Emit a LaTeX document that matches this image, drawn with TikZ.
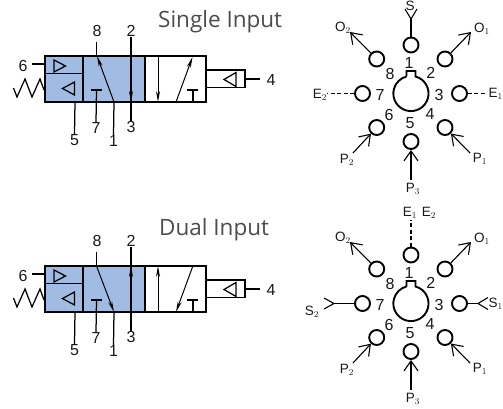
\documentclass[tikz,border=0pt]{standalone}
\usepackage{fontspec}
\setmainfont{Liberation Sans}
\newfontfamily\titlefont{Open Sans}
\usetikzlibrary{arrows.meta}
\definecolor{valveblue}{RGB}{160, 188, 227}
\definecolor{inktext}{RGB}{25, 25, 25}
\tikzset{
    num/.style={font=\fontsize{16}{16}\selectfont, text=inktext, inner sep=0pt},
    portlbl/.style={font=\fontsize{13.5}{13.5}\selectfont, text=inktext, inner sep=0pt},
    head/.style={font=\titlefont\fontsize{22.5}{22.5}\selectfont, text=black!70, inner sep=0pt, anchor=west},
    body/.style={line width=1.8pt, line join=miter},
    thin line/.style={line width=1.25pt},
    port/.style={circle, draw, line width=1.9pt, minimum size=15pt, inner sep=0pt},
    barb/.style={line width=1.1pt, -{Straight Barb[length=10pt,width=14pt,line width=1.1pt]}},
    fork/.style={line width=1.1pt},
    exhaust/.style={line width=1.1pt, dash pattern=on 4pt off 2.5pt},
    flow/.style={line width=1pt, -{Stealth[length=11pt,width=4pt]}}
}
\begin{document}
\begin{tikzpicture}[x=1pt, y=-1pt]
    \useasboundingbox (0,0) rectangle (503,409);
    \node[head] (title0) at (158,22) {Single Input};
    \node[head] (title210) at (159,230) {Dual Input};
    \foreach \dy in {0,210} {
        \begin{scope}[shift={(0,\dy)}]
            % valve body
            \fill[valveblue] (45,56) rectangle (145,102);
            \draw[body] (45,56) rectangle (206,102);
            \draw[body] (45,73.5) -- (83,73.5);
            \draw[body] (83,56) -- (83,102);
            \draw[body] (145,56) -- (145,102);
            \draw[body] (206,70) rectangle (245,87.5);
            \draw[thin line] (54,60) -- (65.5,66) -- (54,72) -- cycle;
            \draw[thin line] (62.5,88.5) -- (74.5,82) -- (74.5,95) -- cycle;
            \draw[thin line] (224,79.5) -- (236,72.5) -- (236,86.5) -- cycle;
            \draw[thin line] (13.5,88) -- (17,97) -- (25,79) -- (32,97) -- (40,79) -- (44,90);
            % valve numbers
            \node[num] (n8-\dy) at (97,31) {8};
            \node[num] (n2-\dy) at (131,31) {2};
            \node[num] (n6-\dy) at (23,66) {6};
            \node[num] (n4-\dy) at (271,80) {4};
            \node[num] (n7-\dy) at (96,128) {7};
            \node[num] (n3-\dy) at (131,127) {3};
            \node[num] (n5-\dy) at (74.5,140) {5};
            \node[num] (n1-\dy) at (113.5,141) {1};
            \coordinate (in6-\dy) at (45,64);
            \coordinate (in4-\dy) at (245,79);
            \coordinate (in5-\dy) at (75,102);
            \coordinate (in1-\dy) at (114,102);
            \coordinate (in7-\dy) at (96.5,90);
            \draw[thin line] (32,64) -- (in6-\dy);
            \draw[thin line] (in4-\dy) -- (260,79);
            \draw[thin line] (in5-\dy) -- (n5-\dy.north);
            \draw[thin line] (in1-\dy) -- (n1-\dy.north);
            \draw[thin line] (in7-\dy) -- (n7-\dy.north);
            \draw[thin line] (n2-\dy.south) -- (n3-\dy.north);
            \draw[thin line] (91,90) -- (102,90);
            \draw[thin line] (187,90) -- (198,90);
            \draw[thin line] (193,90) -- (193,102);
            % ports
            \draw[line width=1.9pt] (406.5,76.5) -- (406.5,71) -- (415.5,71) -- (415.5,76.5)
                arc[start angle=75, end angle=-255, radius=17.6pt];
            \node[port] (p1-\dy) at (411,45) {};
            \node[port] (p2-\dy) at (445,59) {};
            \node[port] (p3-\dy) at (459.5,93.5) {};
            \node[port] (p4-\dy) at (445,127.5) {};
            \node[port] (p5-\dy) at (411,141.5) {};
            \node[port] (p6-\dy) at (376.7,127.5) {};
            \node[port] (p7-\dy) at (362.5,93.5) {};
            \node[port] (p8-\dy) at (376.7,59) {};
            \node[num] at (409,63) {1};
            \node[num] at (430.7,73) {2};
            \node[num] at (439,94.5) {3};
            \node[num] at (430,114) {4};
            \node[num] at (410,123) {5};
            \node[num] at (389,115) {6};
            \node[num] at (380,94.5) {7};
            \node[num] at (390,74) {8};
            % outer arrows
            \coordinate (o1-\dy) at (471,32);
            \coordinate (o2-\dy) at (350,32);
            \coordinate (t1-\dy) at (470,153);
            \coordinate (t2-\dy) at (353,153);
            \coordinate (t3-\dy) at (411,180);
            \draw[barb] (p2-\dy) -- (o1-\dy);
            \draw[barb] (p8-\dy) -- (o2-\dy);
            \draw[barb] (t1-\dy) -- (p4-\dy);
            \draw[barb] (t2-\dy) -- (p6-\dy);
            \draw[barb] (t3-\dy) -- (p5-\dy);
            \node[portlbl] (lo1-\dy) at (482,29) {O$_1$};
            \node[portlbl] (lo2-\dy) at (343,28) {O$_2$};
            \node[portlbl] (lp1-\dy) at (480,159) {P$_1$};
            \node[portlbl] (lp2-\dy) at (347,160) {P$_2$};
            \node[portlbl] (lp3-\dy) at (413,189) {P$_3$};
        \end{scope}
    }
    % single input
    \draw[thin line] (96.5,42) -- (96.5,56);
    \draw[flow] (114,102) -- (97,56);
    \draw[flow] (131,42) -- (131,102);
    \draw[flow] (158,56) -- (158,102);
    \draw[flow] (176,102) -- (192.5,57);
    \coordinate (sfork) at (411,19);
    \draw[fork] (sfork) -- (p1-0);
    \draw[fork] (405,9) -- (sfork) -- (417,9);
    \node[portlbl, anchor=north] (ls) at (410,0.5) {S};
    \coordinate (ee2) at (327,93.5);
    \coordinate (ee1) at (487,93.5);
    \draw[exhaust] (p7-0) -- (ee2);
    \draw[exhaust] (p3-0) -- (ee1);
    \node[portlbl] (le2) at (320,95) {E$_2$};
    \node[portlbl, anchor=east] (le1) at (503,94) {E$_1$};
    % dual input
    \draw[thin line] (96.5,252) -- (96.5,266);
    \draw[flow] (96.5,266) -- (114,312);
    \draw[flow] (131,312) -- (131,266);
    \draw[flow] (158,312) -- (158,266);
    \draw[flow] (192.5,267) -- (176,312);
    \coordinate (s2fork) at (334,303.5);
    \coordinate (s1fork) at (478,303.5);
    \draw[fork] (p7-210) -- (s2fork);
    \draw[fork] (324,298) -- (s2fork) -- (324,309);
    \draw[fork] (p3-210) -- (s1fork);
    \draw[fork] (488,297.5) -- (s1fork) -- (488,309.5);
    \node[portlbl] (ls2) at (312,312) {S$_2$};
    \node[portlbl, anchor=east] (ls1) at (503,304) {S$_1$};
    \coordinate (ee3) at (411,220);
    \draw[exhaust] (p1-210) -- (ee3);
    \node[portlbl] (le3) at (410,213) {E$_1$};
    \node[portlbl] (le4) at (429,213) {E$_2$};
\end{tikzpicture}
\end{document}
